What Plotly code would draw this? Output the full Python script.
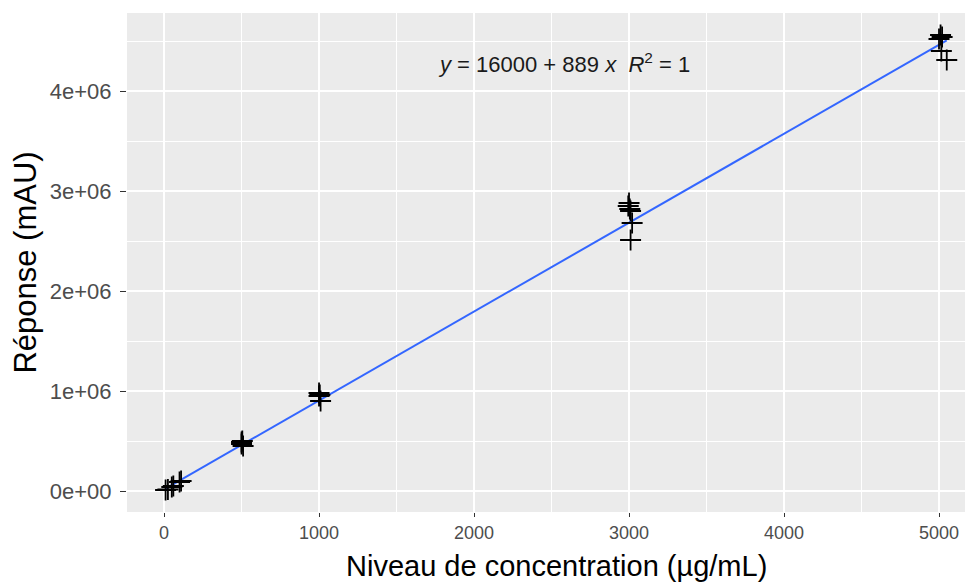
import plotly.graph_objects as go

# Data
conc = [10, 25, 50, 60, 100, 110,
        500, 500, 510, 505,
        1000, 1000, 1010, 1005,
        3000, 2995, 3005, 3010, 3020, 3010,
        5010, 5020, 5000, 5015, 5050]
resp = [10000, 15000, 40000, 50000, 90000, 100000,
        490000, 470000, 450000, 500000,
        980000, 950000, 900000, 960000,
        2880000, 2850000, 2820000, 2800000, 2680000, 2510000,
        4560000, 4540000, 4520000, 4400000, 4310000]

intercept = 16000
slope = 889

x_ticks = [0, 1000, 2000, 3000, 4000, 5000]
y_ticks = [0, 1e6, 2e6, 3e6, 4e6]
y_tick_labels = ["0e+00", "1e+06", "2e+06", "3e+06", "4e+06"]

fit_x = [min(conc), max(conc)]
fit_y = [intercept + slope * v for v in fit_x]

font_family = "Liberation Sans, Arial, sans-serif"

fig = go.Figure()
fig.add_trace(go.Scatter(
    x=fit_x, y=fit_y, mode="lines",
    line=dict(color="#3366FF", width=2), hoverinfo="skip", showlegend=False))
fig.add_trace(go.Scatter(
    x=conc, y=resp, mode="markers",
    marker=dict(symbol="cross-thin", size=15, line=dict(color="black", width=1.8)),
    showlegend=False))

fig.add_annotation(
    x=2580, y=4.28e6, xref="x", yref="y", showarrow=False,
    text="<i>y</i> = 16000 + 889 <i>x</i>  <i>R</i><sup>2</sup> = 1",
    font=dict(family=font_family, size=22, color="#1a1a1a"))

# x-axis title (as annotation so it can be centred like the reference)
fig.add_annotation(
    x=2529, y=-0.108, xref="x", yref="paper", showarrow=False,
    xanchor="center", yanchor="middle",
    text="Niveau de concentration (µg/mL)",
    font=dict(family=font_family, size=29, color="black"))

axis_common = dict(
    showline=False, zeroline=False, automargin=False,
    gridcolor="white", gridwidth=1.6,
    ticks="outside", tickwidth=1.4, tickcolor="#333333",
)

fig.update_xaxes(
    range=[-239, 5200], tickvals=x_ticks, ticklen=4,
    tickfont=dict(family=font_family, size=18, color="#4d4d4d"),
    minor=dict(tick0=500, dtick=1000, showgrid=True, gridcolor="white", gridwidth=0.8, ticks=""),
    **axis_common)
fig.update_yaxes(
    range=[-0.21e6, 4.78e6], tickvals=y_ticks, ticktext=y_tick_labels, ticklen=6,
    ticklabelstandoff=4,
    tickfont=dict(family=font_family, size=22, color="#4d4d4d"),
    title=dict(text="Réponse (mAU)",
               font=dict(family=font_family, size=31, color="black"), standoff=12),
    minor=dict(tick0=0.5e6, dtick=1e6, showgrid=True, gridcolor="white", gridwidth=0.8, ticks=""),
    **axis_common)

# page body has an 8px margin, so the figure is sized/offset to compensate
fig.update_layout(
    width=965, height=578,
    margin=dict(l=119, r=3, t=5, b=74),
    plot_bgcolor="#EBEBEB", paper_bgcolor="white",
    font=dict(family=font_family),
)

fig.write_html("out.html")
